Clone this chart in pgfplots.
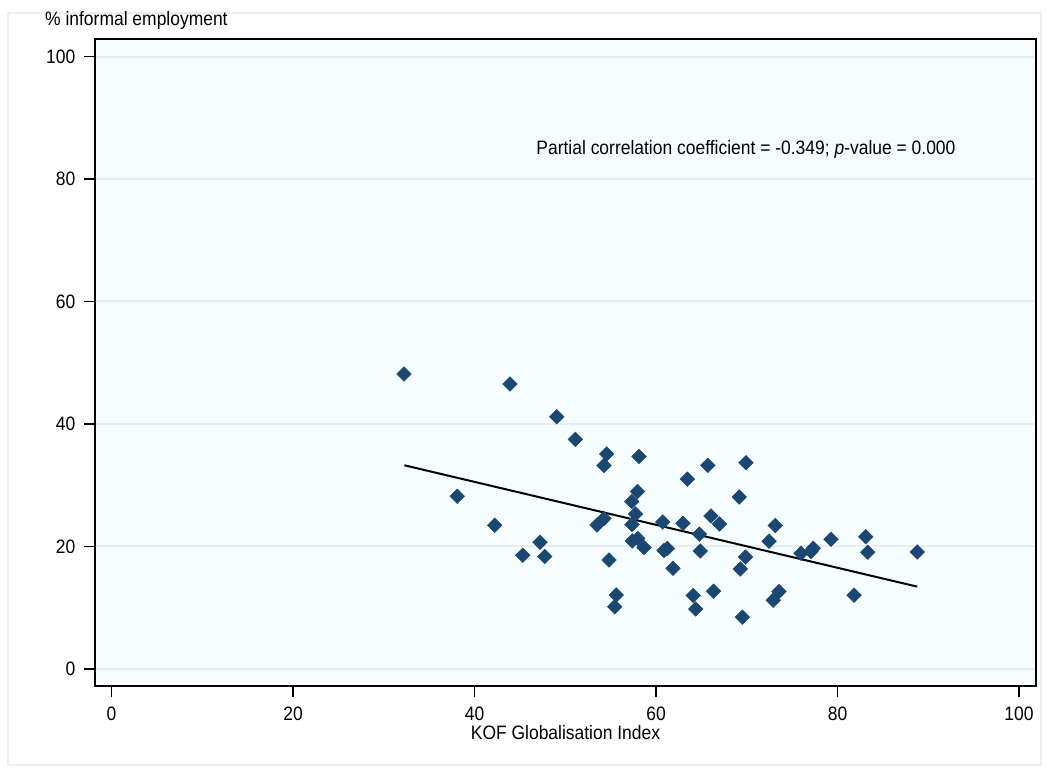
\documentclass[border=0pt]{standalone}
\usepackage{fontspec}
\setmainfont{Liberation Sans}[FakeStretch=0.9]
\usepackage{pgfplots}
\pgfplotsset{compat=1.18}
\definecolor{plotbg}{RGB}{245,253,254}
\definecolor{gridc}{RGB}{230,238,240}
\definecolor{markc}{RGB}{26,72,114}
\definecolor{outerc}{RGB}{234,240,242}
\begin{document}
\fontsize{19.4}{23}\selectfont
\begin{tikzpicture}[x=1pt,y=1pt]
\useasboundingbox (0,0) rectangle (1047,772);
\fill[white] (0,0) rectangle (1047,772);
\draw[outerc, line width=1.2pt] (8,7) rectangle (1041,759);
\begin{axis}[
  at={(95pt,86pt)}, anchor=south west,
  scale only axis, width=941pt, height=647pt,
  xmin=-1.82, xmax=101.87, ymin=-2.78, ymax=102.86,
  xtick={0,20,40,60,80,100}, ytick={0,20,40,60,80,100},
  tick align=outside, major tick length=11pt,
  tick style={black, line width=1.2pt},
  xtick pos=bottom, ytick pos=left,
  axis line style={black, line width=2pt},
  axis background/.style={fill=plotbg},
  ymajorgrids, grid style={gridc, line width=2pt},
  /pgf/number format/assume math mode=true,
  tick label style={font=\fontsize{19.4}{23}\selectfont},
  xticklabel style={yshift=-3pt},
  yticklabel style={xshift=-2pt},
  xlabel={KOF Globalisation Index},
  xlabel style={font=\fontsize{19.4}{23}\selectfont, yshift=8pt},
  clip=false,
]
\addplot[only marks, mark=square*, mark size=5.2pt, color=markc,
  every mark/.append style={rotate=45}] coordinates {
(32.23,48.16) (43.91,46.53) (49.06,41.19) (51.11,37.50) (54.57,35.10)
(54.27,33.22) (58.13,34.69) (38.10,28.20) (42.23,23.46) (47.22,20.69)
(45.31,18.56) (47.73,18.37) (53.50,23.51) (54.27,24.57) (54.82,17.80)
(55.62,12.08) (55.46,10.16) (57.96,28.98) (57.32,27.35) (57.74,25.31)
(57.36,23.59) (57.39,20.90) (57.98,21.31) (58.68,19.84) (60.74,24.00)
(60.88,19.35) (61.25,19.67) (61.87,16.44) (62.98,23.79) (65.71,33.26)
(69.92,33.68) (63.45,30.99) (69.18,28.08) (66.06,24.98) (67.00,23.67)
(64.77,22.01) (73.13,23.43) (72.45,20.87) (64.87,19.27) (69.86,18.29)
(69.29,16.33) (75.98,18.89) (77.33,19.71) (77.08,19.18) (79.28,21.19)
(83.11,21.60) (83.33,19.07) (88.79,19.10) (64.11,12.00) (64.37,9.80)
(66.34,12.70) (73.55,12.65) (72.92,11.22) (69.51,8.46) (81.82,12.05)
};
\addplot[black, line width=2pt] coordinates {(32.27,33.26) (88.79,13.44)};
\node[anchor=west, inner sep=0pt] at (axis cs:46.8,84.9)
  {Partial correlation coefficient = -0.349; \textit{p}-value = 0.000};
\end{axis}
\node[anchor=west, inner sep=0pt] at (45,752) {\% informal employment};
\end{tikzpicture}
\end{document}
